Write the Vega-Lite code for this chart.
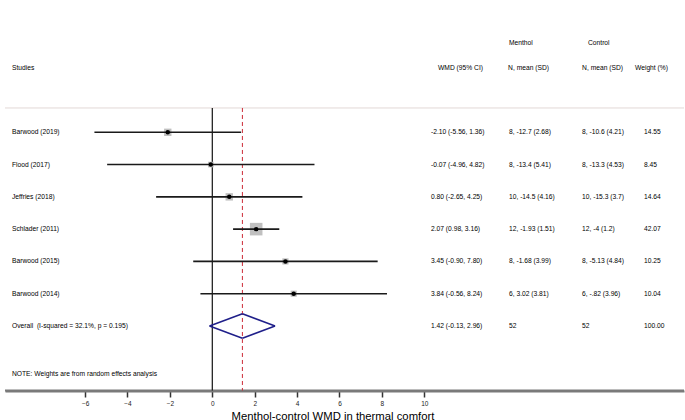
{
  "$schema": "https://vega.github.io/schema/vega-lite/v6.json",
  "autosize": "none",
  "width": 679,
  "height": 391,
  "padding": {"left": 5, "right": 1, "top": 0, "bottom": 29},
  "background": "white",
  "config": {
    "view": {"stroke": null},
    "font": "Liberation Sans",
    "text": {"font": "Liberation Sans", "fontSize": 6.7, "color": "#000000", "baseline": "middle", "align": "left"}
  },
  "datasets": {
    "forest": [
      {"study": "Barwood (2019)", "kind": "study", "order": 1, "est": -2.10, "lo": -5.56, "hi": 1.36, "wmd": "-2.10 (-5.56, 1.36)", "menthol": "8, -12.7 (2.68)", "control": "8, -10.6 (4.21)", "weight": 14.55},
      {"study": "Flood (2017)", "kind": "study", "order": 2, "est": -0.07, "lo": -4.96, "hi": 4.82, "wmd": "-0.07 (-4.96, 4.82)", "menthol": "8, -13.4 (5.41)", "control": "8, -13.3 (4.53)", "weight": 8.45},
      {"study": "Jeffries (2018)", "kind": "study", "order": 3, "est": 0.80, "lo": -2.65, "hi": 4.25, "wmd": "0.80 (-2.65, 4.25)", "menthol": "10, -14.5 (4.16)", "control": "10, -15.3 (3.7)", "weight": 14.64},
      {"study": "Schlader (2011)", "kind": "study", "order": 4, "est": 2.07, "lo": 0.98, "hi": 3.16, "wmd": "2.07 (0.98, 3.16)", "menthol": "12, -1.93 (1.51)", "control": "12, -4 (1.2)", "weight": 42.07},
      {"study": "Barwood (2015)", "kind": "study", "order": 5, "est": 3.45, "lo": -0.90, "hi": 7.80, "wmd": "3.45 (-0.90, 7.80)", "menthol": "8, -1.68 (3.99)", "control": "8, -5.13 (4.84)", "weight": 10.25},
      {"study": "Barwood (2014)", "kind": "study", "order": 6, "est": 3.84, "lo": -0.56, "hi": 8.24, "wmd": "3.84 (-0.56, 8.24)", "menthol": "6, 3.02 (3.81)", "control": "6, -.82 (3.96)", "weight": 10.04},
      {"study": "Overall \u00a0(I-squared = 32.1%, p = 0.195)", "kind": "pooled", "order": 7, "est": 1.42, "lo": -0.13, "hi": 2.96, "wmd": "1.42 (-0.13, 2.96)", "menthol": "52", "control": "52", "weight": 100.00}
    ]
  },
  "encoding": {
    "x": {
      "type": "quantitative",
      "scale": {"domain": [-9.778, 22.25], "nice": false, "zero": false},
      "axis": {
        "values": [-6, -4, -2, 0, 2, 4, 6, 8, 10],
        "grid": false,
        "domain": true,
        "domainColor": "#7a7a7a",
        "domainWidth": 2,
        "tickColor": "#333333",
        "tickWidth": 1.5,
        "tickSize": 6,
        "labelFontSize": 6.5,
        "labelColor": "#222222",
        "labelPadding": 3,
        "labelFont": "Liberation Sans",
        "title": "Menthol-control WMD in thermal comfort",
        "titleFont": "Liberation Sans",
        "titleFontSize": 11.3,
        "titleFontWeight": "normal",
        "titleColor": "#000000",
        "titleX": 327.5,
        "titleY": 28,
        "titleBaseline": "alphabetic",
        "titleAlign": "center"
      }
    },
    "y": {
      "type": "quantitative",
      "scale": {"domain": [-3.098, 9.014], "reverse": true, "nice": false, "zero": false},
      "axis": null
    }
  },
  "layer": [
    {
      "data": {"values": [{"sep": "header rule"}]},
      "mark": {"type": "rule", "color": "#e2d8d6", "strokeWidth": 1},
      "encoding": {"y": {"datum": 0.247}}
    },
    {
      "data": {"values": [{"sep": "axis line"}]},
      "mark": {"type": "rule", "color": "#7a7a7a", "strokeWidth": 2},
      "encoding": {"y": {"datum": 9.0}}
    },
    {
      "data": {"values": [{"null_effect": 0}]},
      "mark": {"type": "rule", "color": "#111111", "strokeWidth": 1.2},
      "encoding": {"x": {"field": "null_effect"}, "y": {"datum": 0.247}, "y2": {"datum": 9.0}}
    },
    {
      "data": {"name": "forest"},
      "transform": [{"filter": "datum.kind === 'pooled'"}],
      "mark": {"type": "rule", "color": "#cc2a36", "strokeWidth": 1, "strokeDash": [4, 3]},
      "encoding": {"x": {"field": "est"}, "y": {"datum": 0.247}, "y2": {"datum": 9.0}}
    },
    {
      "data": {"name": "forest"},
      "transform": [{"filter": "datum.kind === 'study'"}],
      "mark": {"type": "point", "shape": "square", "filled": true, "color": "#c0c0c0", "opacity": 1},
      "encoding": {
        "x": {"field": "est"},
        "y": {"field": "order"},
        "size": {"field": "weight", "type": "quantitative", "scale": {"domain": [0, 100], "range": [0, 375]}, "legend": null}
      }
    },
    {
      "data": {"name": "forest"},
      "transform": [{"filter": "datum.kind === 'study'"}],
      "mark": {"type": "rule", "color": "#1a1a1a", "strokeWidth": 1.6},
      "encoding": {"x": {"field": "lo"}, "x2": {"field": "hi"}, "y": {"field": "order"}}
    },
    {
      "data": {"name": "forest"},
      "transform": [{"filter": "datum.kind === 'study'"}],
      "mark": {"type": "point", "shape": "circle", "filled": true, "color": "#000000", "opacity": 1, "size": 20},
      "encoding": {"x": {"field": "est"}, "y": {"field": "order"}}
    },
    {
      "data": {"name": "forest"},
      "transform": [{"filter": "datum.kind === 'pooled'"}, {"fold": ["lo", "hi"], "as": ["end", "tip"]}],
      "mark": {"type": "rule", "color": "#1f1f8a", "strokeWidth": 1.5},
      "encoding": {"x": {"field": "tip"}, "y": {"field": "order"}, "x2": {"field": "est"}, "y2": {"datum": 6.62}}
    },
    {
      "data": {"name": "forest"},
      "transform": [{"filter": "datum.kind === 'pooled'"}, {"fold": ["lo", "hi"], "as": ["end", "tip"]}],
      "mark": {"type": "rule", "color": "#1f1f8a", "strokeWidth": 1.5},
      "encoding": {"x": {"field": "tip"}, "y": {"field": "order"}, "x2": {"field": "est"}, "y2": {"datum": 7.38}}
    },
    {
      "data": {"name": "forest"},
      "mark": {"type": "text"},
      "encoding": {"x": {"datum": -9.448}, "y": {"field": "order"}, "text": {"field": "study"}}
    },
    {
      "data": {"name": "forest"},
      "mark": {"type": "text"},
      "encoding": {"x": {"datum": 10.316}, "y": {"field": "order"}, "text": {"field": "wmd"}}
    },
    {
      "data": {"name": "forest"},
      "mark": {"type": "text"},
      "encoding": {"x": {"datum": 13.995}, "y": {"field": "order"}, "text": {"field": "menthol"}}
    },
    {
      "data": {"name": "forest"},
      "mark": {"type": "text"},
      "encoding": {"x": {"datum": 17.439}, "y": {"field": "order"}, "text": {"field": "control"}}
    },
    {
      "data": {"name": "forest"},
      "mark": {"type": "text"},
      "encoding": {"x": {"datum": 20.363}, "y": {"field": "order"}, "text": {"field": "weight", "format": ".2f"}}
    },
    {
      "data": {"values": [{"h": "Studies"}]},
      "mark": {"type": "text"},
      "encoding": {"x": {"datum": -9.448}, "y": {"datum": -0.99}, "text": {"field": "h"}}
    },
    {
      "data": {"values": [{"h": "WMD (95% CI)"}]},
      "mark": {"type": "text", "align": "right"},
      "encoding": {"x": {"datum": 12.769}, "y": {"datum": -0.99}, "text": {"field": "h"}}
    },
    {
      "data": {"values": [{"h": "N, mean (SD)"}]},
      "mark": {"type": "text", "align": "right"},
      "encoding": {"x": {"datum": 15.882}, "y": {"datum": -0.99}, "text": {"field": "h"}}
    },
    {
      "data": {"values": [{"h": "N, mean (SD)"}]},
      "mark": {"type": "text", "align": "right"},
      "encoding": {"x": {"datum": 19.373}, "y": {"datum": -0.99}, "text": {"field": "h"}}
    },
    {
      "data": {"values": [{"h": "Weight (%)"}]},
      "mark": {"type": "text"},
      "encoding": {"x": {"datum": 19.939}, "y": {"datum": -0.99}, "text": {"field": "h"}}
    },
    {
      "data": {"values": [{"h": "Menthol"}]},
      "mark": {"type": "text"},
      "encoding": {"x": {"datum": 13.995}, "y": {"datum": -1.77}, "text": {"field": "h"}}
    },
    {
      "data": {"values": [{"h": "Control"}]},
      "mark": {"type": "text"},
      "encoding": {"x": {"datum": 17.722}, "y": {"datum": -1.77}, "text": {"field": "h"}}
    },
    {
      "data": {"values": [{"h": "NOTE: Weights are from random effects analysis"}]},
      "mark": {"type": "text"},
      "encoding": {"x": {"datum": -9.448}, "y": {"datum": 8.49}, "text": {"field": "h"}}
    }
  ]
}
